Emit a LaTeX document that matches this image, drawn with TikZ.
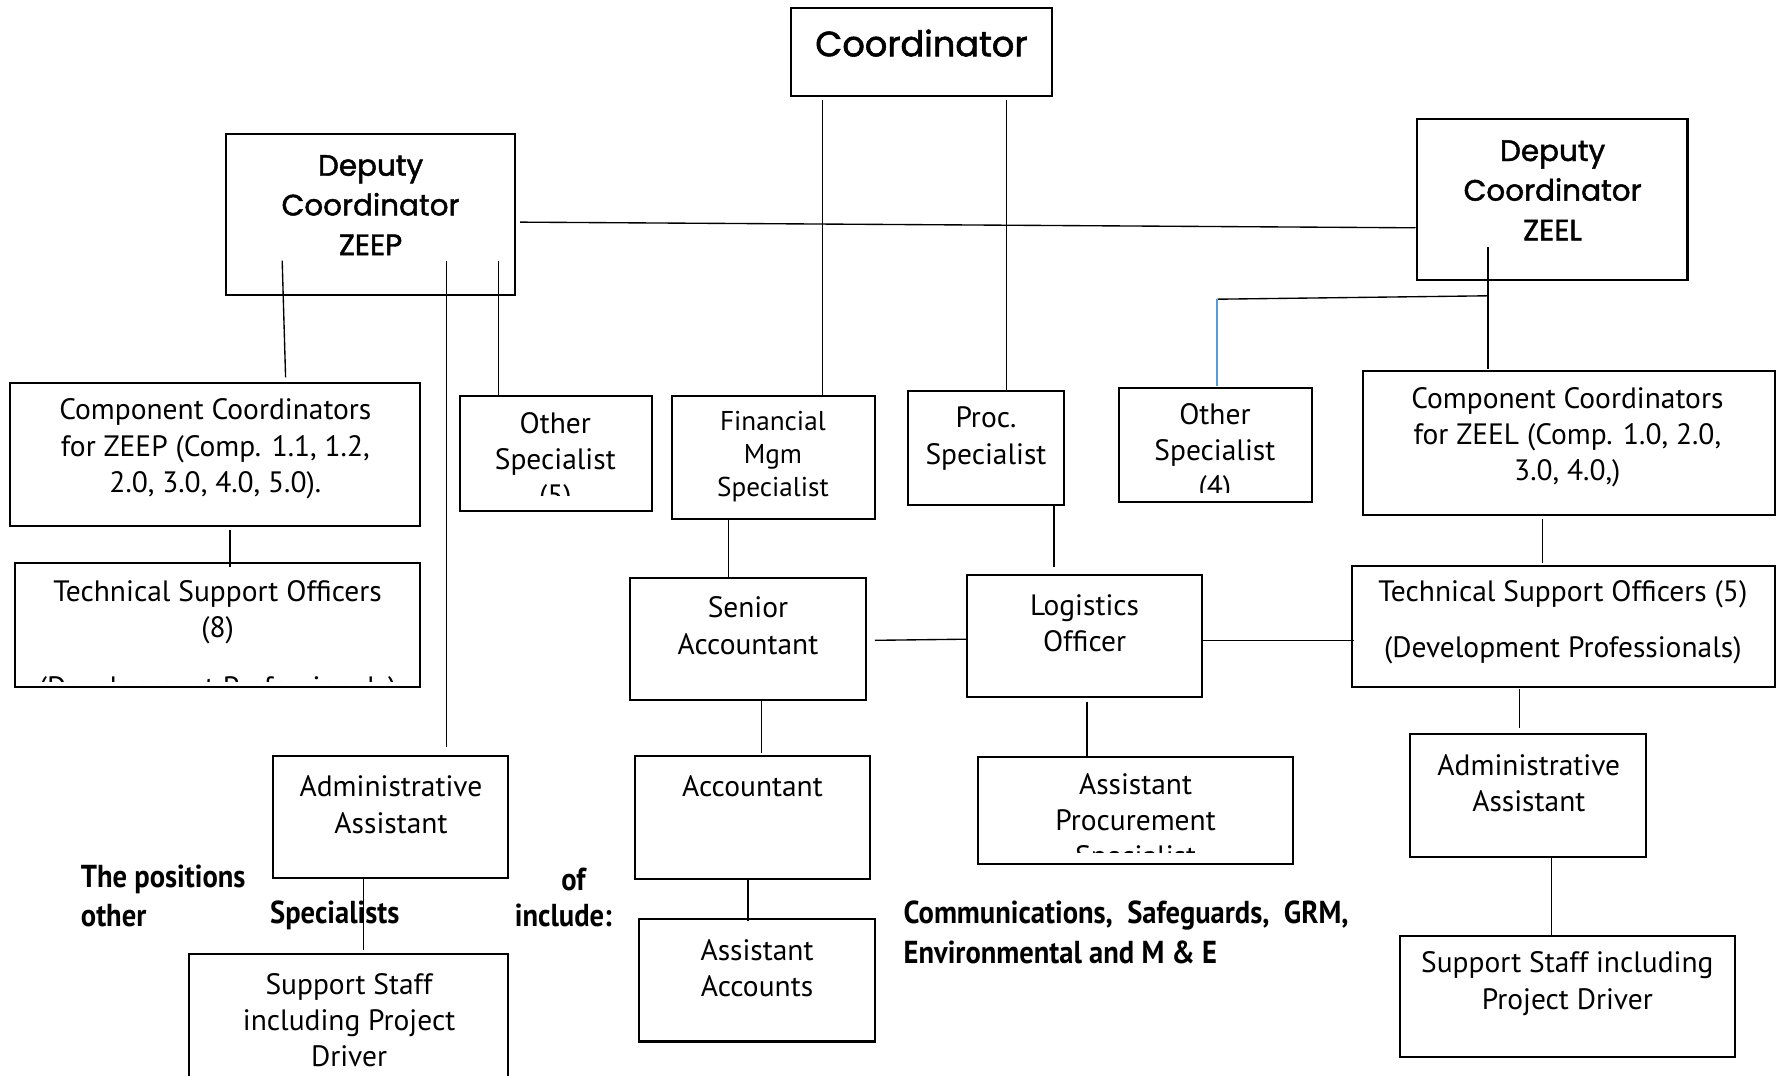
\documentclass[tikz,border=0pt]{standalone}
\usepackage{fontspec}
\setmainfont{PT Sans}
\newfontfamily\headfont{Poppins}[FakeBold=1.6]
\newfontfamily\parafont{PT Sans}[FakeStretch=0.9]
\usetikzlibrary{calc}
\definecolor{lineblue}{RGB}{91,155,213}
\tikzset{
  box/.style={draw, line width=0.9pt, inner sep=0pt},
  conn/.style={line width=0.6pt},
  txt/.style={align=center, inner sep=0pt, font=\fontsize{13}{16}\selectfont},
  smalltxt/.style={align=center, inner sep=0pt, font=\fontsize{12}{14.5}\selectfont},
  head/.style={align=center, inner sep=0pt, font=\headfont\fontsize{13}{17.5}\selectfont},
  bighead/.style={align=center, inner sep=0pt, font=\headfont\fontsize{15.5}{18}\selectfont},
  para/.style={anchor=west, inner sep=0pt, font=\parafont\bfseries\fontsize{14}{16}\selectfont},
}
\newcommand\obox[5]{\node[box, minimum width={(#4-#2)*0.5pt}, minimum height={(#5-#3)*0.5pt}] (#1) at ({(#2+#4)/2},{(#3+#5)/2}) {};}
\begin{document}
\begin{tikzpicture}[x=0.5pt,y=-0.5pt]
\useasboundingbox (0,0) rectangle (1568,949);
\clip (0,0) rectangle (1568,949);
% boxes
\obox{coord}{698}{7}{928}{85}
\obox{zeep}{199}{118}{454}{260}
\obox{zeel}{1250}{105}{1489}{247}
\obox{cczeep}{9}{338}{371}{464}
\obox{tsoeight}{13}{497}{371}{606}
\obox{othfive}{406}{349}{575}{451}
\obox{fin}{593}{349}{772}{458}
\obox{proc}{801}{345}{939}{446}
\obox{othfour}{987}{342}{1158}{443}
\obox{cczeel}{1203}{327}{1566}{454}
\obox{snr}{556}{510}{764}{618}
\obox{logi}{853}{507}{1061}{615}
\obox{tsofive}{1193}{499}{1566}{606}
\obox{admone}{241}{667}{448}{775}
\obox{acct}{560}{667}{768}{776}
\obox{apro}{863}{668}{1141}{762}
\obox{admtwo}{1244}{648}{1452}{756}
\obox{supone}{167}{842}{448}{980}
\obox{asac}{564}{811}{772}{919}
\obox{suptwo}{1235}{826}{1531}{933}
% texts
\node[bighead] (tcoord) at (813,38) {Coordinator};
\node[head] (tzeep) at (327,181) {Deputy\\Coordinator\\ZEEP};
\node[head] (tzeel) at (1370,168) {Deputy\\Coordinator\\ZEEL};
\node[txt] (tcczeep) at (190,396) {Component Coordinators\\for ZEEP (Comp. 1.1, 1.2,\\2.0, 3.0, 4.0, 5.0).};
\node[txt] (ttsoeight) at (192,540) {Technical Support Officers\\(8)};
\begin{scope}
  \clip (13,497) rectangle (371,601);
  \node[txt] (ttsoeightb) at (192,609) {(Development Professionals)};
\end{scope}
\begin{scope}
  \clip (406,349) rectangle (575,437);
  \node[txt] (tothfive) at (490,408) {Other\\Specialist\\(5)};
\end{scope}
\node[smalltxt] (tfin) at (682,403) {Financial\\Mgm\\Specialist};
\node[txt] (tproc) at (870,387) {Proc.\\Specialist};
\begin{scope}
  \clip (987,342) rectangle (1158,435);
  \node[txt] (tothfour) at (1072,400) {Other\\Specialist\\(4)};
\end{scope}
\node[txt] (tcczeel) at (1383,386) {Component Coordinators\\for ZEEL (Comp. 1.0, 2.0,\\3.0, 4.0,)};
\node[txt] (tsnr) at (660,552) {Senior\\Accountant};
\node[txt] (tlogi) at (957,550) {Logistics\\Officer};
\node[txt] (ttsofive) at (1379,524) {Technical Support Officers (5)};
\node[txt] (ttsofiveb) at (1379,574) {(Development Professionals)};
\node[txt] (tadmone) at (345,710) {Administrative\\Assistant};
\node[txt] (tacct) at (664,694) {Accountant};
\begin{scope}
  \clip (863,668) rectangle (1141,752);
  \node[txt] (tapro) at (1002,726) {Assistant\\Procurement\\Specialist};
\end{scope}
\node[txt] (tadmtwo) at (1349,691) {Administrative\\Assistant};
\node[txt] (tsupone) at (308,900) {Support Staff\\including Project\\Driver};
\node[txt] (tasac) at (668,854) {Assistant\\Accounts};
\node[txt] (tsuptwo) at (1383,868) {Support Staff including\\Project Driver};
% paragraph
\node[para] (pa) at (71,776) {The positions};
\node[para] (pb) at (495,776) {of};
\node[para] (pc) at (71,808) {other};
\node[para] (pd) at (238,808) {Specialists};
\node[para] (pe) at (454,808) {include:};
\node[para] (pf) at (797,808) {Communications,\ \ Safeguards,\ \ GRM,};
\node[para] (pg) at (797,840) {Environmental and M \& E};
% connector end points
\coordinate (a1) at (726,88);   \coordinate (a2) at (726,349);
\coordinate (b1) at (888,88);   \coordinate (b2) at (888,345);
\coordinate (h1) at (459,196);  \coordinate (h2) at (1249,201);
\coordinate (z1) at (249,230);  \coordinate (z2) at (252,333);
\coordinate (z3) at (394,230);  \coordinate (z4) at (394,659);
\coordinate (z5) at (440,230);  \coordinate (z6) at (440,349);
\coordinate (e1) at (1313,218); \coordinate (e2) at (1313,326);
\coordinate (e3) at (1313,261); \coordinate (e4) at (1074,264);
\coordinate (e5) at (1074,341);
\coordinate (k1) at (203,468);  \coordinate (k2) at (203,500);
\coordinate (f1) at (643,458);  \coordinate (f2) at (643,510);
\coordinate (p1) at (930,446);  \coordinate (p2) at (930,500);
\coordinate (s1) at (772,565);  \coordinate (s2) at (853,564);
\coordinate (l1) at (1061,565); \coordinate (l2) at (1195,565);
\coordinate (c1) at (1361,458); \coordinate (c2) at (1361,497);
\coordinate (r1) at (672,617);  \coordinate (r2) at (672,664);
\coordinate (g1) at (959,619);  \coordinate (g2) at (959,667);
\coordinate (t1) at (1341,608); \coordinate (t2) at (1341,642);
\coordinate (m1) at (321,776);  \coordinate (m2) at (321,838);
\coordinate (n1) at (660,776);  \coordinate (n2) at (660,813);
\coordinate (q1) at (1369,757); \coordinate (q2) at (1369,826);
% connectors
\draw[conn] (a1) -- (a2);
\draw[conn] (b1) -- (b2);
\draw[conn] (h1) -- (h2);
\draw[conn] (z1) -- (z2);
\draw[conn] (z3) -- (z4);
\draw[conn] (z5) -- (z6);
\draw[conn] (e1) -- (e2);
\draw[conn] (e3) -- (e4);
\draw[conn, lineblue] (e4) -- (e5);
\draw[conn] (k1) -- (k2);
\draw[conn] (f1) -- (f2);
\draw[conn] (p1) -- (p2);
\draw[conn] (s1) -- (s2);
\draw[conn] (l1) -- (l2);
\draw[conn] (c1) -- (c2);
\draw[conn] (r1) -- (r2);
\draw[conn] (g1) -- (g2);
\draw[conn] (t1) -- (t2);
\draw[conn] (m1) -- (m2);
\draw[conn] (n1) -- (n2);
\draw[conn] (q1) -- (q2);
\end{tikzpicture}
\end{document}
